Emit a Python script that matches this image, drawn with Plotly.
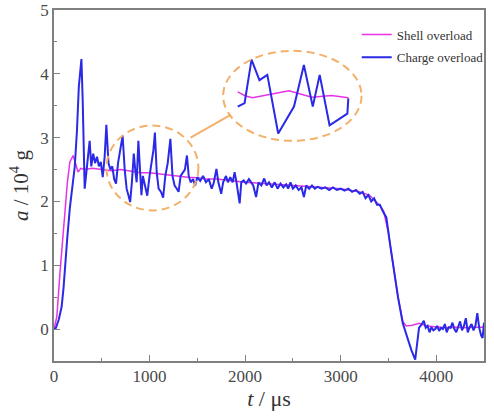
import plotly.graph_objects as go

# ---- data ----
charge_t = [0, 20, 50, 80, 100, 114, 140, 166, 190, 217, 240, 260, 287, 300, 321, 340, 373, 390, 410, 430,
            450, 470, 490, 510, 530, 548, 570, 590, 610, 630, 649, 670, 695, 718, 740, 760, 778, 797, 815, 835,
            850, 865, 883, 900, 915, 930, 950, 976, 1000, 1020, 1040, 1056, 1075, 1095, 1120, 1142, 1165, 1190,
            1218, 1240, 1262, 1285, 1304, 1325, 1350, 1370, 1391, 1410, 1430, 1455, 1477, 1500, 1530, 1560, 1590,
            1620, 1650, 1670, 1700, 1720, 1750, 1770, 1800, 1820, 1845, 1870, 1890, 1910, 1943, 1960, 1985, 2010,
            2040, 2060, 2085, 2115, 2140, 2170, 2200, 2225, 2250, 2280, 2310, 2340, 2370, 2400, 2430, 2450, 2475,
            2500, 2530, 2560, 2590, 2615, 2640, 2670, 2700, 2730, 2760, 2800, 2840, 2880, 2920, 2960, 3000, 3040,
            3080, 3120, 3160, 3200, 3230, 3260, 3290, 3320, 3350, 3380, 3410, 3440, 3478, 3520, 3560, 3600, 3650,
            3700, 3740, 3780, 3800, 3820, 3850, 3870, 3890, 3910, 3930, 3950, 3970, 3990, 4010, 4030, 4050, 4070,
            4090, 4110, 4130, 4150, 4170, 4190, 4210, 4230, 4250, 4270, 4290, 4310, 4330, 4350, 4370, 4390, 4410,
            4430, 4450, 4470, 4485, 4500]
charge_a = [0.0, 0.02, 0.15, 0.35, 0.65, 0.97, 1.45, 1.9, 2.25, 2.54, 3.1, 3.8, 4.23, 3.6, 2.2, 2.5, 2.95, 2.55, 2.75, 2.6,
            2.7, 2.55, 2.62, 2.38, 2.7, 3.2, 2.6, 2.5, 2.55, 2.35, 2.28, 2.6, 2.8, 3.03, 2.5, 2.2, 2.1, 1.99, 2.3, 2.75,
            2.5, 2.3, 2.95, 2.4, 2.1, 2.4, 2.25, 2.09, 2.4, 2.6, 2.8, 3.08, 2.45, 2.2, 2.15, 2.06, 2.4, 2.6,
            2.98, 2.4, 2.25, 2.2, 2.15, 2.4, 2.45, 2.5, 2.72, 2.4, 2.3, 2.35, 2.25, 2.38, 2.32, 2.4, 2.3,
            2.35, 2.2, 2.28, 2.51, 2.3, 2.12, 2.3, 2.4, 2.3, 2.38, 2.3, 2.46, 2.3, 1.97, 2.3, 2.33, 2.28,
            2.35, 2.3, 2.25, 2.07, 2.3, 2.25, 2.36, 2.25, 2.3, 2.22, 2.3, 2.2, 2.28, 2.22, 2.27, 2.2, 2.3,
            2.2, 2.25, 2.18, 2.22, 2.07, 2.25, 2.2, 2.25, 2.2, 2.23, 2.2, 2.22, 2.18, 2.22, 2.18, 2.2, 2.17,
            2.2, 2.15, 2.18, 2.12, 2.15, 2.05, 2.1, 2.0, 2.05, 1.95, 1.95, 1.85, 1.75, 1.3, 0.9, 0.5, 0.09,
            -0.15, -0.33, -0.48, -0.25, 0.02, 0.08, 0.13, 0.02, 0.05, -0.05, 0.03, -0.02, 0.0, 0.05, -0.03, 0.02, 0.0,
            0.08, -0.05, 0.03, 0.02, 0.1, 0.0, -0.05, 0.05, 0.12, -0.02, 0.05, 0.17, -0.05, 0.03, 0.08, -0.02, 0.05,
            0.25, 0.02, -0.1, -0.14, 0.1]

shell_t = [0, 30, 62, 90, 114, 140, 166, 200, 225, 252, 280, 320, 400, 500, 600, 700, 800, 900, 1000, 1100,
           1200, 1300, 1400, 1500, 1600, 1700, 1800, 1900, 2000, 2200, 2400, 2600, 2800, 3000, 3200, 3300, 3400,
           3450, 3500, 3550, 3600, 3650, 3685, 3750, 3820, 3900, 4000, 4100, 4200, 4300, 4400, 4500]
shell_a = [0.0, 0.2, 0.87, 1.4, 1.9, 2.3, 2.62, 2.72, 2.6, 2.46, 2.52, 2.5, 2.52, 2.5, 2.48, 2.5, 2.47, 2.45, 2.45, 2.43,
           2.42, 2.4, 2.38, 2.37, 2.35, 2.35, 2.33, 2.32, 2.3, 2.28, 2.26, 2.24, 2.22, 2.2, 2.15, 2.1, 1.95,
           1.85, 1.5, 1.0, 0.5, 0.12, 0.05, 0.06, 0.09, 0.05, 0.03, 0.02, 0.03, 0.02, 0.03, 0.03]

# magnified inset (zoomed view)
inset_charge_t = [1000, 1007, 1014, 1022, 1030, 1041, 1057, 1067, 1076, 1083, 1093, 1111, 1112]
inset_charge_a = [2.37, 2.43, 3.17, 2.82, 2.91, 1.91, 2.37, 3.08, 2.37, 2.91, 2.05, 2.25, 2.51]
inset_shell_t = [1000, 1008, 1015, 1032, 1052, 1075, 1095, 1112]
inset_shell_a = [2.62, 2.55, 2.52, 2.57, 2.64, 2.53, 2.56, 2.52]

x_tickvals = [0, 1000, 2000, 3000, 4000]
y_tickvals = [0, 1, 2, 3, 4, 5]

SHELL_COLOR = "#e633e6"
CHARGE_COLOR = "#2a2ae6"
ORANGE = "#f2b06a"
FONT = "Liberation Serif"

fig = go.Figure()
fig.add_trace(go.Scatter(x=shell_t, y=shell_a, mode="lines", name="Shell overload", legendgroup="shell",
                         line=dict(color=SHELL_COLOR, width=1.5)))
fig.add_trace(go.Scatter(x=charge_t, y=charge_a, mode="lines", name="Charge overload", legendgroup="charge",
                         line=dict(color=CHARGE_COLOR, width=2)))
fig.add_trace(go.Scatter(x=inset_shell_t, y=inset_shell_a, mode="lines", showlegend=False,
                         line=dict(color=SHELL_COLOR, width=1.5), xaxis="x2", yaxis="y2"))
fig.add_trace(go.Scatter(x=inset_charge_t, y=inset_charge_a, mode="lines", showlegend=False,
                         line=dict(color=CHARGE_COLOR, width=2), xaxis="x2", yaxis="y2"))

axis_common = dict(showline=True, linecolor="#808080", linewidth=1.5, mirror=True, automargin=False,
                   ticks="inside", ticklen=6, tickcolor="#808080", showgrid=False, zeroline=False,
                   ticklabeloverflow="allow",
                   tickfont=dict(family=FONT, size=17, color="#4a4a4a"))

fig.update_layout(
    width=494, height=416,
    margin=dict(l=54, r=5, t=10, b=55),
    paper_bgcolor="white", plot_bgcolor="white",
    xaxis=dict(range=[0, 4500], tickvals=x_tickvals, ticklabelstandoff=-1,
               minor=dict(ticks="inside", dtick=500, ticklen=3, tickcolor="#808080"),
               title=dict(text="<i>t</i> / μs", font=dict(family=FONT, size=22, color="#333333"), standoff=0),
               **axis_common),
    yaxis=dict(range=[-0.5, 5], tickvals=y_tickvals,
               minor=dict(ticks="inside", dtick=0.5, ticklen=3, tickcolor="#808080"),
               title=dict(text="<i>a</i> / 10<sup>4</sup> g", font=dict(family=FONT, size=21, color="#333333"), standoff=6),
               **axis_common),
    xaxis2=dict(domain=[0.418, 0.696], range=[996, 1117], visible=False, anchor="y2"),
    yaxis2=dict(domain=[0.638, 0.872], range=[1.849, 3.251], visible=False, anchor="x2"),
    legend=dict(x=0.704, y=0.973, xanchor="left", yanchor="top", bgcolor="rgba(0,0,0,0)",
                traceorder="grouped", tracegroupgap=3,
                font=dict(family=FONT, size=13, color="#333333"), itemwidth=30),
    showlegend=True,
    shapes=[
        dict(type="circle", xref="x", yref="y", x0=549, x1=1511, y0=1.86, y1=3.19,
             line=dict(color=ORANGE, width=2, dash="8px,5px")),
        dict(type="circle", xref="x", yref="y", x0=1770, x1=3219, y0=2.95, y1=4.36,
             line=dict(color=ORANGE, width=2, dash="8px,5px")),
        dict(type="line", xref="x", yref="y", x0=1429, y0=3.0, x1=1853, y1=3.36,
             line=dict(color=ORANGE, width=2)),
    ],
)

# remove the browser's default 8px body margin so the figure fills the window exactly
fig.write_html("out.html", config={"displayModeBar": False},
               post_script="document.body.style.margin='0';document.body.style.overflow='hidden';")
